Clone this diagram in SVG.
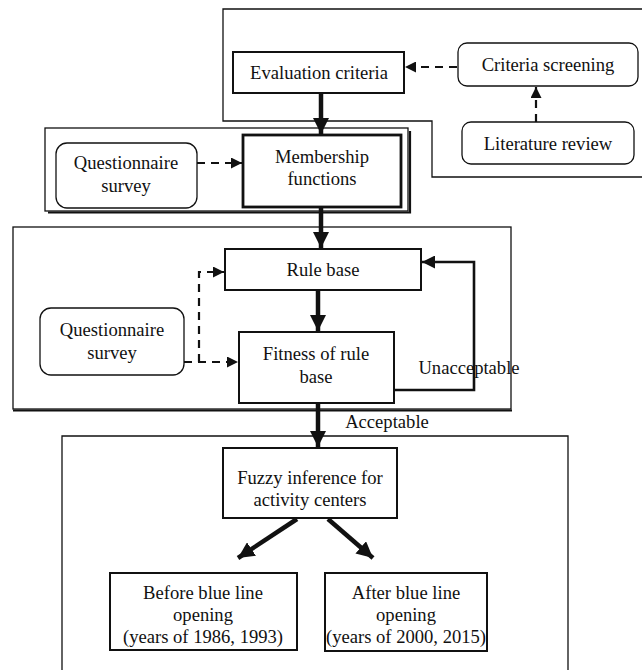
<svg xmlns="http://www.w3.org/2000/svg" width="642" height="670" viewBox="0 0 642 670">
<style>
text{font-family:"Liberation Serif","Times New Roman",serif;font-size:18.6px;fill:#111;text-anchor:middle}
.frame{fill:none;stroke:#111;stroke-width:1.3}
.shadow{fill:none;stroke:#111;stroke-width:2.2}
.box{fill:#fff;stroke:#111;stroke-width:2}
.thick{fill:#fff;stroke:#111;stroke-width:2.8}
.rbox{fill:#fff;stroke:#111;stroke-width:1.3}
.solid{fill:none;stroke:#111;stroke-width:4.5}
.loop{fill:none;stroke:#111;stroke-width:2.6}
.dash{fill:none;stroke:#111;stroke-width:2.2;stroke-dasharray:8,6}
</style>
<defs>
<marker id="big" viewBox="0 0 10 10" refX="10" refY="5" markerWidth="3.6" markerHeight="3.6" markerUnits="strokeWidth" orient="auto">
<path d="M0,0 L10,5 L0,10 z" fill="#111"/>
</marker>
<marker id="small" viewBox="0 0 10 10" refX="10" refY="5" markerWidth="5" markerHeight="5" markerUnits="strokeWidth" orient="auto">
<path d="M0,0 L10,5 L0,10 z" fill="#111"/>
</marker>
</defs>
<g id="frames">
<path class="frame" d="M645,9 H223 V121 H432 V177 H645"/>
<rect class="frame" x="45" y="128" width="363" height="83"/>
<path class="shadow" d="M48,212.5 H410 V131"/>
<rect class="frame" x="13" y="227" width="498" height="182"/>
<path class="shadow" d="M13,410.5 H512"/>
<path class="frame" d="M62,672 V436 H568 V672"/>
</g>
<g id="connectors">
<line class="solid" x1="321" y1="93" x2="321" y2="134" marker-end="url(#big)"/>
<line class="solid" x1="321" y1="208" x2="321" y2="248" marker-end="url(#big)"/>
<line class="solid" x1="318" y1="290" x2="318" y2="331" marker-end="url(#big)"/>
<line class="solid" x1="318" y1="404" x2="318" y2="447" marker-end="url(#big)"/>
<line class="solid" x1="297" y1="519" x2="238" y2="558" marker-end="url(#big)"/>
<line class="solid" x1="328" y1="519" x2="373" y2="558" marker-end="url(#big)"/>
<line class="dash" x1="457" y1="67" x2="405" y2="67" marker-end="url(#small)"/>
<line class="dash" x1="536" y1="122" x2="536" y2="87" marker-end="url(#small)"/>
<line class="dash" x1="197" y1="163" x2="242" y2="163" marker-end="url(#small)"/>
<line class="dash" x1="184" y1="362" x2="238" y2="362" marker-end="url(#small)"/>
<polyline class="dash" points="199,362 199,272 224,272" marker-end="url(#small)"/>
<polyline class="loop" points="394,390 474,390 474,262 422,262" marker-end="url(#small)"/>
</g>
<g id="evaluation-criteria">
<rect class="box" x="233" y="52" width="171" height="41"/>
<text x="319" y="79">Evaluation criteria</text>
</g>
<g id="criteria-screening">
<rect class="rbox" x="458" y="43" width="180" height="43" rx="9"/>
<text x="548" y="71">Criteria screening</text>
</g>
<g id="literature-review">
<rect class="rbox" x="462" y="122" width="172" height="42" rx="9"/>
<text x="548" y="150">Literature review</text>
</g>
<g id="questionnaire-1">
<rect class="rbox" x="56" y="143" width="141" height="65" rx="11"/>
<text x="126" y="169">Questionnaire</text>
<text x="126" y="192">survey</text>
</g>
<g id="membership-functions">
<rect class="thick" x="243" y="135" width="158" height="72"/>
<text x="322" y="163">Membership</text>
<text x="322" y="185">functions</text>
</g>
<g id="rule-base">
<rect class="box" x="225" y="249" width="196" height="41"/>
<text x="323" y="276">Rule base</text>
</g>
<g id="questionnaire-2">
<rect class="rbox" x="40" y="308" width="144" height="67" rx="11"/>
<text x="112" y="336">Questionnaire</text>
<text x="112" y="359">survey</text>
</g>
<g id="fitness">
<rect class="box" x="239" y="332" width="155" height="71"/>
<text x="316" y="360">Fitness of rule</text>
<text x="316" y="383">base</text>
</g>
<text x="469" y="374">Unacceptable</text>
<text x="387" y="428">Acceptable</text>
<g id="fuzzy-inference">
<rect class="box" x="223" y="448" width="174" height="70"/>
<text x="310" y="484">Fuzzy inference for</text>
<text x="310" y="506">activity centers</text>
</g>
<g id="before">
<rect class="box" x="110" y="573" width="187" height="77"/>
<text x="203" y="599">Before blue line</text>
<text x="203" y="621">opening</text>
<text x="203" y="643">(years of 1986, 1993)</text>
</g>
<g id="after">
<rect class="box" x="325" y="573" width="162" height="78"/>
<text x="406" y="599">After blue line</text>
<text x="406" y="621">opening</text>
<text x="406" y="643">(years of 2000, 2015)</text>
</g>
</svg>
